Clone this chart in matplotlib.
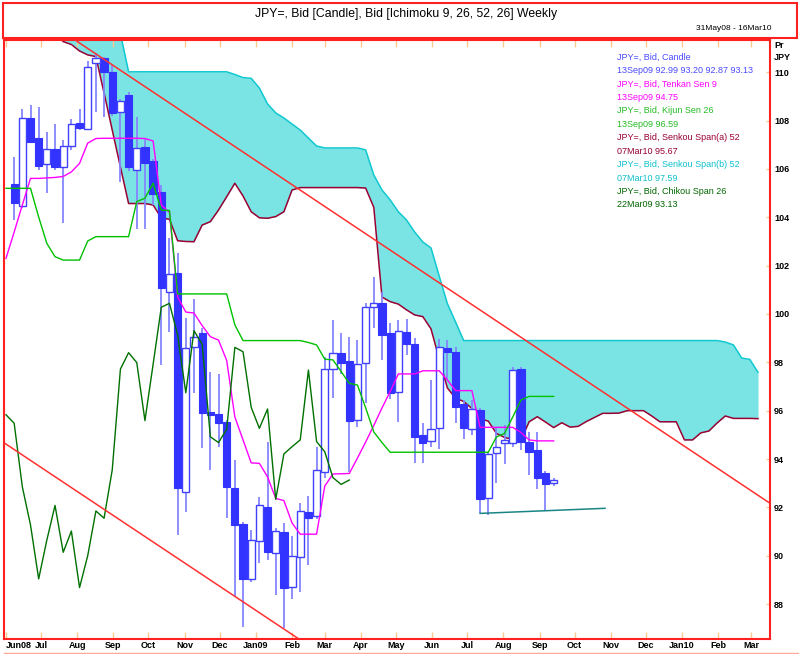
import numpy as np
import pandas as pd
import matplotlib
matplotlib.use('Agg')
import matplotlib.pyplot as plt
import matplotlib.dates as mdates
from matplotlib.patches import Rectangle
from matplotlib.lines import Line2D

plt.rcParams['font.family'] = ['Liberation Sans', 'DejaVu Sans']

# weekly candles, 08Jun08 .. 13Sep09
candle_dates = pd.date_range('2008-06-08', '2009-09-13', freq='7D')
opens = [105.37, 104.47, 108.10, 107.27, 106.19, 106.83, 106.09, 106.95, 107.89, 107.65,
         110.37, 110.58, 110.02, 108.35, 109.06, 105.96, 106.90, 106.33, 105.06, 100.92,
         101.68, 92.65, 98.65, 99.23, 95.96, 95.85, 95.52, 92.79, 91.31, 89.04,
         90.62, 92.01, 90.10, 90.98, 88.72, 89.96, 91.80, 91.64, 93.45, 97.72,
         98.40, 98.07, 95.62, 97.98, 100.28, 100.44, 99.20, 96.79, 99.27, 98.75,
         94.99, 94.76, 95.27, 98.60, 98.44, 96.28, 95.23, 96.03, 92.38, 94.24,
         94.67, 94.67, 97.72, 94.72, 94.37, 93.43, 92.99]
highs = [106.51, 108.47, 108.65, 108.55, 107.54, 107.86, 107.20, 108.06, 108.47, 110.47,
         110.80, 110.62, 110.30, 108.90, 109.20, 108.14, 107.27, 106.40, 105.34, 103.13,
         102.51, 99.83, 100.62, 99.42, 97.61, 97.52, 95.60, 93.96, 91.41, 91.06,
         92.44, 94.72, 91.15, 91.37, 90.83, 92.17, 92.47, 94.51, 98.20, 99.75,
         99.23, 99.06, 98.92, 100.44, 101.52, 100.92, 99.61, 99.75, 99.78, 99.00,
         95.48, 97.27, 98.95, 98.92, 98.65, 96.44, 96.44, 96.10, 94.30, 95.34,
         95.40, 97.82, 97.82, 95.13, 95.13, 93.50, 93.20]
lows = [103.89, 104.40, 107.07, 105.95, 104.99, 105.95, 103.75, 106.80, 107.60, 107.60,
        108.37, 108.16, 108.20, 105.47, 105.90, 103.50, 103.52, 104.50, 97.89, 99.27,
        90.86, 91.82, 96.72, 94.44, 93.55, 94.51, 91.55, 88.30, 87.04, 88.90,
        89.69, 89.82, 88.37, 87.00, 88.20, 88.51, 89.62, 91.50, 93.20, 96.51,
        97.50, 93.48, 95.34, 96.30, 99.40, 98.10, 96.50, 95.54, 98.30, 93.82,
        93.82, 94.50, 94.40, 97.30, 95.48, 94.83, 95.00, 91.75, 91.68, 93.02,
        93.80, 94.50, 94.37, 93.34, 92.75, 91.86, 92.87]
closes = [104.58, 108.10, 107.13, 106.14, 106.83, 106.09, 106.96, 107.85, 107.71, 110.23,
          110.58, 110.02, 108.33, 108.81, 106.09, 106.86, 106.24, 104.95, 101.06, 101.64,
          92.79, 98.58, 99.04, 95.89, 95.83, 95.48, 92.85, 91.27, 89.04, 90.65,
          92.08, 90.14, 91.02, 88.68, 90.00, 91.85, 91.55, 93.55, 97.72, 98.40,
          97.99, 95.59, 97.92, 100.28, 100.44, 99.13, 96.74, 99.31, 98.75, 94.92,
          94.68, 95.23, 98.62, 98.44, 96.14, 95.27, 96.07, 92.33, 94.21, 94.51,
          94.79, 97.68, 94.72, 94.30, 93.23, 92.95, 93.13]

# Tenkan / Kijun, 01Jun08 .. 13Sep09
line_dates = pd.date_range('2008-06-01', '2009-09-13', freq='7D')
tenkan = [102.30, 103.39, 104.51, 105.61, 105.61, 105.63, 105.65, 105.69, 105.88, 106.23,
          107.07, 107.26, 107.27, 107.27, 107.27, 107.27, 107.27, 107.26, 107.16, 104.51,
          104.20, 100.70, 100.08, 100.04, 99.52, 99.06, 98.92, 98.08, 95.74, 94.79,
          93.84, 93.82, 93.26, 92.37, 92.28, 91.35, 90.89, 90.89, 90.89, 92.88,
          93.38, 93.39, 93.40, 94.04, 94.70, 95.39, 96.11, 96.79, 97.52, 97.52,
          97.52, 97.65, 97.65, 97.65, 97.27, 96.83, 96.83, 96.83, 95.31, 95.31,
          95.31, 95.31, 95.31, 95.10, 94.79, 94.75, 94.75, 94.75]
kijun = [105.20, 105.20, 105.20, 105.20, 104.01, 102.92, 102.37, 102.23, 102.23, 102.23,
         103.02, 103.20, 103.20, 103.20, 103.20, 103.20, 104.65, 104.79, 105.41, 104.30,
         104.28, 100.83, 100.83, 100.83, 100.83, 100.83, 100.83, 100.83, 99.55, 98.90,
         98.90, 98.90, 98.90, 98.90, 98.90, 98.90, 98.90, 98.82, 98.72, 98.13,
         98.10, 97.62, 97.13, 97.06, 96.12, 95.12, 94.68, 94.28, 94.28, 94.28,
         94.28, 94.28, 94.28, 94.28, 94.28, 94.28, 94.28, 94.28, 94.28, 94.28,
         94.91, 95.06, 95.74, 96.44, 96.59, 96.59, 96.59, 96.59]

# Senkou spans, 13Jul08 .. 07Mar10 (first values run above the top of the chart)
span_dates = pd.date_range('2008-07-13', '2010-03-07', freq='7D')
senkou_a = [111.63, 111.27, 111.15, 110.88, 110.72, 110.65, 109.14, 107.61, 106.08, 104.57,
            104.57, 104.57, 104.51, 103.97, 103.92, 103.03, 103.00, 102.99, 103.68, 103.82,
            104.30, 104.85, 105.41, 104.88, 104.23, 103.98, 103.96, 104.03, 104.23, 105.13,
            105.23, 105.23, 105.23, 105.23, 105.23, 105.23, 105.23, 105.23, 105.21, 104.41,
            100.70, 100.51, 100.41, 100.17, 99.96, 99.89, 99.38, 98.14, 96.94, 96.52,
            96.38, 96.09, 95.66, 95.57, 95.06, 94.89, 94.82, 94.79, 95.54, 95.75,
            95.53, 95.30, 95.50, 95.32, 95.35, 95.55, 95.72, 95.89, 95.89, 95.90,
            96.00, 96.00, 96.00, 95.78, 95.54, 95.54, 95.54, 94.79, 94.79, 95.08,
            95.16, 95.49, 95.78, 95.68, 95.68, 95.68, 95.67]
senkou_b = [112.00, 112.00, 112.00, 112.00, 112.00, 112.00, 112.00, 112.00, 111.60, 110.02,
            110.02, 110.02, 110.02, 110.02, 110.02, 110.02, 110.02, 110.02, 110.02, 110.02,
            110.02, 110.02, 109.91, 109.78, 109.75, 109.35, 108.69, 108.32, 108.11, 107.86,
            107.61, 107.28, 106.95, 106.87, 106.87, 106.87, 106.87, 106.87, 106.79, 105.75,
            105.13, 104.72, 104.23, 103.89, 103.39, 102.98, 102.73, 101.57, 100.43, 99.67,
            98.90, 98.90, 98.90, 98.90, 98.90, 98.90, 98.90, 98.90, 98.90, 98.90,
            98.90, 98.90, 98.90, 98.90, 98.90, 98.90, 98.90, 98.90, 98.90, 98.90,
            98.90, 98.90, 98.90, 98.90, 98.90, 98.90, 98.90, 98.90, 98.90, 98.90,
            98.90, 98.90, 98.84, 98.72, 98.18, 98.12, 97.59]

# Chikou span: closes plotted 25 weeks back, 01Jun08 .. 22Mar09
chikou_dates = pd.date_range('2008-06-01', '2009-03-22', freq='7D')
chikou = closes[24:]

# drawn trend lines
upper_dates = ['2008-07-30', '2010-03-16']
upper_vals = [111.34, 92.21]
lower_dates = ['2008-05-31', '2009-02-06']
lower_vals = [94.65, 86.58]
support_dates = ['2009-07-12', '2009-10-27']
support_vals = [91.75, 91.96]

month_ticks = pd.date_range('2008-06-01', '2010-03-01', freq='MS')
month_labels = ['Jun08', 'Jul', 'Aug', 'Sep', 'Oct', 'Nov', 'Dec', 'Jan09', 'Feb', 'Mar', 'Apr',
                'May', 'Jun', 'Jul', 'Aug', 'Sep', 'Oct', 'Nov', 'Dec', 'Jan10', 'Feb', 'Mar']

legend_lines = [('JPY=, Bid, Candle', '#4a4aff'),
                ('13Sep09 92.99 93.20 92.87 93.13', '#4a4aff'),
                ('JPY=, Bid, Tenkan Sen 9', '#ff00ff'),
                ('13Sep09 94.75', '#ff00ff'),
                ('JPY=, Bid, Kijun Sen 26', '#22bb22'),
                ('13Sep09 96.59', '#22bb22'),
                ('JPY=, Bid, Senkou Span(a) 52', '#990033'),
                ('07Mar10 95.67', '#990033'),
                ('JPY=, Bid, Senkou Span(b) 52', '#10c0cc'),
                ('07Mar10 97.59', '#10c0cc'),
                ('JPY=, Bid, Chikou Span 26', '#006600'),
                ('22Mar09 93.13', '#006600')]


def dnum(d):
    return mdates.date2num(pd.to_datetime(d).to_pydatetime())


W, H = 799, 654
fig = plt.figure(figsize=(W / 100, H / 100), dpi=100)
ax = fig.add_axes([4 / W, 15 / H, 766 / W, 599 / H])

cx = dnum(candle_dates)
o = np.array(opens)
c = np.array(closes)

# cloud
sx = dnum(span_dates)
ax.fill_between(sx, senkou_a, senkou_b, color='#7ae3e3', lw=0, zorder=1)
ax.plot(sx, senkou_a, color='#990033', lw=1.1, zorder=2)
ax.plot(sx, senkou_b, color='#10c8d0', lw=1.1, zorder=2)

# candles
ax.vlines(cx, lows, highs, color='#8585ff', lw=1.3, zorder=3)
up = c >= o
ax.bar(cx[~up], (o - c)[~up], bottom=c[~up], width=6.2, color='#3333ff',
       edgecolor='#3333ff', lw=0.8, zorder=4)
ax.bar(cx[up], (c - o)[up], bottom=o[up], width=6.2, color='white',
       edgecolor='#4040ff', lw=1.0, zorder=4)

lx = dnum(line_dates)
ax.plot(lx, tenkan, color='#ff00ff', lw=1.0, zorder=5)
ax.plot(lx, kijun, color='#00c000', lw=1.0, zorder=5)
ax.plot(dnum(chikou_dates), chikou, color='#007000', lw=1.0, zorder=5)

ax.plot(dnum(upper_dates), upper_vals, color='#ff3030', lw=1.1, zorder=6)
ax.plot(dnum(lower_dates), lower_vals, color='#ff3030', lw=1.1, zorder=6)
ax.plot(dnum(support_dates), support_vals, color='#1a8585', lw=1.1, zorder=6)

x0 = dnum('2008-06-01')
ax.set_xlim(x0 - 1.7, x0 + 654.3)
ax.set_ylim(86.553, 111.336)

ax.set_xticks(dnum(month_ticks))
ax.set_xticklabels(month_labels, fontsize=6.5, fontweight='bold')
ax.get_xticklabels()[0].set_ha('left')
ax.tick_params(axis='x', top=True, bottom=True, direction='in', length=5,
               color='#ffc890', width=1, pad=1.5)

ax.yaxis.tick_right()
ax.set_yticks(np.arange(88, 111, 2))
ax.set_yticklabels([str(v) for v in range(88, 111, 2)], fontsize=6.5, fontweight='bold')
ax.tick_params(axis='y', direction='in', length=3, color='#ffc890', width=1, pad=3)

for s in ax.spines.values():
    s.set_color('#ff2020')
    s.set_linewidth(1.5)

# header box and texts
fig.patches.append(Rectangle((3 / W, 1 - 38 / H), 794 / W, 35 / H, transform=fig.transFigure,
                             fill=False, edgecolor='#ff2020', lw=1.5))
fig.text(406 / W, 1 - 14 / H, 'JPY=, Bid [Candle], Bid [Ichimoku 9, 26, 52, 26] Weekly',
         ha='center', va='center', fontsize=8.8)
fig.text(772 / W, 1 - 29 / H, '31May08 - 16Mar10', ha='right', va='center', fontsize=6)
fig.text(774 / W, 1 - 45 / H, 'Pr', ha='left', va='center', fontsize=6.5, fontweight='bold')
fig.text(774 / W, 1 - 58 / H, 'JPY', ha='left', va='center', fontsize=6.5, fontweight='bold')
fig.add_artist(Line2D([4 / W, 1], [1 - 652.5 / H] * 2, color='#ffa898', lw=1,
                      transform=fig.transFigure))

for i, (txt, col) in enumerate(legend_lines):
    fig.text(617 / W, 1 - (57 + 13.45 * i) / H, txt, color=col, fontsize=6.5,
             ha='left', va='center')

fig.savefig('out.png', dpi=100)
